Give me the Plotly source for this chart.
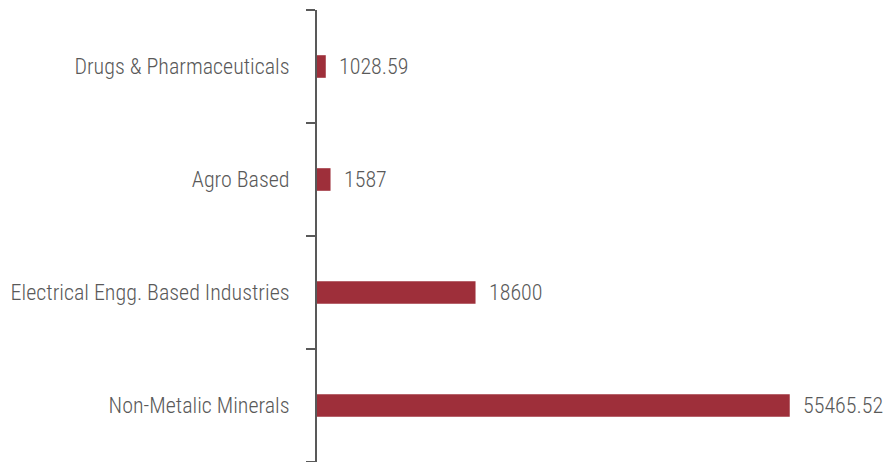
import plotly.graph_objects as go

categories = ["Non-Metalic Minerals", "Electrical Engg. Based Industries", "Agro Based", "Drugs & Pharmaceuticals"]
values = [55465.52, 18600, 1587, 1028.59]
labels = ["55465.52", "18600", "1587", "1028.59"]

FONT = "Liberation Sans Narrow, Roboto Condensed, Arial Narrow, sans-serif"
GRAY = "#595959"

fig = go.Figure()
fig.add_trace(go.Bar(
    y=categories, x=values, orientation="h",
    marker=dict(color="#9E2F3A", line=dict(width=0)),
    hoverinfo="skip",
))
for c, v, t in zip(categories, values, labels):
    fig.add_annotation(x=v, y=c, text=t, showarrow=False, xanchor="left",
                       xshift=11, font=dict(family=FONT, size=22, color=GRAY, weight=300))

fig.update_layout(
    width=886, height=462,
    margin=dict(l=317, r=15, t=10, b=0, autoexpand=False),
    paper_bgcolor="white", plot_bgcolor="white",
    bargap=0.8, showlegend=False,
    font=dict(family=FONT, size=22, color=GRAY, weight=300),
)
fig.update_xaxes(range=[0, 65000], visible=False, automargin=False)
fig.update_yaxes(
    type="category", categoryorder="array", categoryarray=categories,
    showline=True, linecolor=GRAY, linewidth=2, automargin=False,
    ticks="outside", tickson="boundaries", ticklen=9, tickwidth=2, tickcolor=GRAY,
    ticklabelstandoff=21, showgrid=False, zeroline=False,
    tickfont=dict(family=FONT, size=22, color=GRAY, weight=300),
)
fig.write_html(
    "out.html",
    config={"displayModeBar": False},
    post_script="document.body.style.margin='0';document.body.style.overflow='hidden';",
)
